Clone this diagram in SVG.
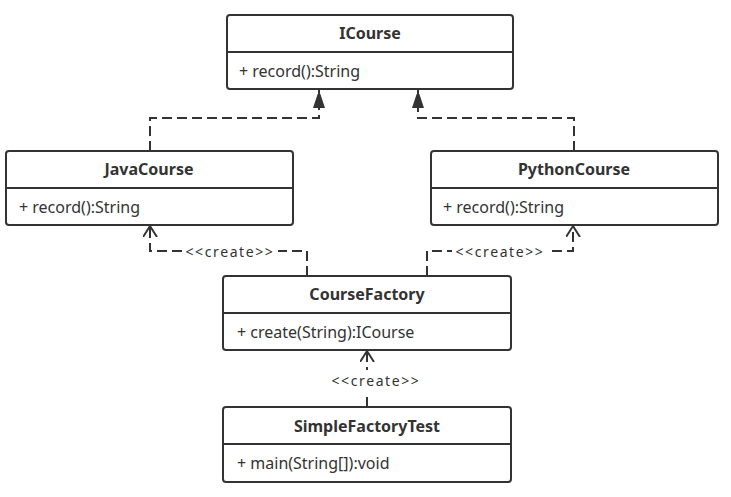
<svg xmlns="http://www.w3.org/2000/svg" width="731" height="497" viewBox="0 0 731 497">
<style>
.box{fill:#fff;stroke:#333;stroke-width:2}
.div{stroke:#333;stroke-width:2}
.t{font-family:"Noto Sans","Open Sans",sans-serif;font-size:16px;font-weight:bold;fill:#333;text-anchor:middle}
.m{font-family:"Noto Sans","Open Sans",sans-serif;font-size:16px;fill:#333}
.c{fill:none;stroke:#333;stroke-width:2;stroke-dasharray:10 5}
.lbl{font-family:"Noto Sans","Open Sans",sans-serif;font-size:14px;fill:#333;text-anchor:middle;letter-spacing:1.6px}
</style>
<defs>
<marker id="tri" markerWidth="14" markerHeight="20" refX="18" refY="6" orient="auto" markerUnits="userSpaceOnUse">
<path d="M0,0 L18,6 L0,12 z" fill="#333"/>
</marker>
<marker id="open" markerWidth="14" markerHeight="18" refX="11" refY="7" orient="auto" markerUnits="userSpaceOnUse">
<path d="M0,0 L11,7 L0,14" fill="none" stroke="#333" stroke-width="2"/>
</marker>
</defs>
<rect width="731" height="497" fill="#fff"/>
<g id="connectors">
<path class="c" d="M150,151 V118 H319 V90" marker-end="url(#tri)"/>
<path class="c" d="M574,151 V118 H418 V90" marker-end="url(#tri)"/>
<path class="c" d="M307,276 V251 H150 V226" marker-end="url(#open)"/>
<path class="c" d="M427,276 V251 H573 V226" marker-end="url(#open)"/>
<path class="c" d="M367,407 V351" marker-end="url(#open)"/>
<rect x="182" y="243" width="96" height="16" fill="#fff"/>
<rect x="452" y="243" width="96" height="16" fill="#fff"/>
<rect x="326" y="370" width="100" height="24" fill="#fff"/>
<text class="lbl" x="230" y="257">&lt;&lt;create&gt;&gt;</text>
<text class="lbl" x="500" y="257">&lt;&lt;create&gt;&gt;</text>
<text class="lbl" x="376" y="386">&lt;&lt;create&gt;&gt;</text>
</g>
<g id="ICourse">
<rect class="box" x="227" y="15" width="286" height="74" rx="3"/>
<line class="div" x1="227" y1="52" x2="513" y2="52"/>
<text class="t" x="370" y="39">ICourse</text>
<text class="m" x="239" y="77">+ record():String</text>
</g>
<g id="JavaCourse">
<rect class="box" x="6" y="151" width="287" height="74" rx="3"/>
<line class="div" x1="6" y1="188" x2="293" y2="188"/>
<text class="t" x="149" y="175">JavaCourse</text>
<text class="m" x="19" y="213">+ record():String</text>
</g>
<g id="PythonCourse">
<rect class="box" x="431" y="151" width="287" height="74" rx="3"/>
<line class="div" x1="431" y1="188" x2="718" y2="188"/>
<text class="t" x="574" y="175">PythonCourse</text>
<text class="m" x="443" y="213">+ record():String</text>
</g>
<g id="CourseFactory">
<rect class="box" x="223" y="276" width="288" height="74" rx="3"/>
<line class="div" x1="223" y1="313" x2="511" y2="313"/>
<text class="t" x="367" y="300">CourseFactory</text>
<text class="m" x="237" y="338">+ create(String):ICourse</text>
</g>
<g id="SimpleFactoryTest">
<rect class="box" x="223" y="407" width="288" height="75" rx="3"/>
<line class="div" x1="223" y1="444" x2="511" y2="444"/>
<text class="t" x="367" y="432">SimpleFactoryTest</text>
<text class="m" x="237" y="469">+ main(String[]):void</text>
</g>
</svg>
